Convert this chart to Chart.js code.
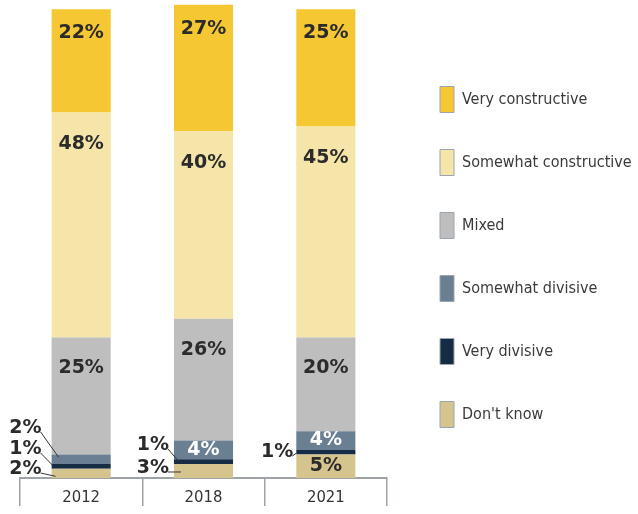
<!DOCTYPE html>
<html><head><meta charset="utf-8">
<script src="https://cdn.jsdelivr.net/npm/chart.js@4/dist/chart.umd.min.js"></script>
<style>html,body{margin:0;padding:0;background:#fff}#wrap{width:638px;height:514px;position:relative}</style>
</head><body><div id="wrap"><canvas id="c"></canvas></div>
<script>
// ---- data ----
const categories = ['2012', '2018', '2021'];
const seriesNames = ['Very constructive', 'Somewhat constructive', 'Mixed', 'Somewhat divisive', 'Very divisive', "Don't know"];
const veryConstructive = [22, 27, 25];
const somewhatConstructive = [48, 40, 45];
const mixed = [25, 26, 20];
const somewhatDivisive = [2, 4, 4];
const veryDivisive = [1, 1, 1];
const dontKnow = [2, 3, 5];

// ---- styles ----
const colors = ['#F5C833', '#F6E5A8', '#BEBEBE', '#6B7F93', '#162C45', '#D6C48F'];
const seriesValues = [veryConstructive, somewhatConstructive, mixed, somewhatDivisive, veryDivisive, dontKnow];
const labelStyle = [
  {mode: 'top', offset: 24, color: '#2b2b2b'},
  {mode: 'top', offset: 32, color: '#2b2b2b'},
  {mode: 'top', offset: 31, color: '#2b2b2b'},
  {mode: 'center', color: '#ffffff'},
  {mode: 'center', color: '#ffffff'},
  {mode: 'center', color: '#2b2b2b'}
];
const outsideLabels = {
  '3:0': {tx: -10, ty: 50, ex: 7, ey: -2},
  '4:0': {tx: -10, ty: 29, ex: 1, ey: -1},
  '5:0': {tx: -10, ty: 9, ex: 4, ey: 3},
  '4:1': {tx: -5, ty: 33, ex: 5, ey: 0},
  '5:1': {tx: -5, ty: 10, ex: 7, ey: 1},
  '4:2': {tx: -3, ty: 26, ex: 0, ey: 1}
};

const datasets = seriesNames.map((name, s) => ({
  label: name,
  sIndex: s,
  data: seriesValues[s],
  backgroundColor: colors[s],
  borderWidth: 0,
  categoryPercentage: 1,
  barPercentage: 0.483
})).reverse();

const valueLabels = {
  id: 'valueLabels',
  afterDatasetsDraw(chart) {
    const ctx = chart.ctx;
    const yBase = chart.scales.y.getPixelForValue(0);
    ctx.save();
    ctx.font = 'bold 19px "DejaVu Sans"';
    ctx.textBaseline = 'middle';
    chart.data.datasets.forEach((ds, d) => {
      const meta = chart.getDatasetMeta(d);
      const st = labelStyle[ds.sIndex];
      meta.data.forEach((bar, i) => {
        const txt = ds.data[i] + '%';
        const top = Math.min(bar.y, bar.base), bottom = Math.max(bar.y, bar.base);
        const left = bar.x - bar.width / 2;
        const out = outsideLabels[ds.sIndex + ':' + i];
        if (out) {
          const tr = left + out.tx, ty = yBase - out.ty;
          ctx.fillStyle = '#2b2b2b';
          ctx.textAlign = 'right';
          ctx.fillText(txt, tr, ty);
          ctx.strokeStyle = '#333';
          ctx.lineWidth = 1;
          ctx.beginPath();
          ctx.moveTo(tr - 1, ty + 4);
          ctx.lineTo(left + out.ex, (top + bottom) / 2 + out.ey);
          ctx.stroke();
        } else {
          const y = st.mode === 'center' ? (top + bottom) / 2 : top + st.offset;
          ctx.fillStyle = st.color;
          ctx.textAlign = 'center';
          ctx.fillText(txt, bar.x, y);
        }
      });
    });
    ctx.restore();
  }
};

// legend sits 53px right of the plot area
const legendShift = {
  id: 'legendShift',
  afterLayout(chart) {
    const lg = chart.legend;
    lg.left += 16; lg.right += 16;
  }
};

const condFamily = '"DejaVu Sans Condensed", Roboto';
const legendSize = 16;
const mctx = document.createElement('canvas').getContext('2d');
mctx.font = legendSize + 'px ' + condFamily;
const maxText = Math.max(...seriesNames.map(n => mctx.measureText(n).width));
const legendPad = 37;
const legendW = legendPad + 14 + legendSize / 2 + maxText + 10;
const padRight = Math.max(0, 638 - 387 - legendW);

new Chart(document.getElementById('c'), {
  type: 'bar',
  data: {labels: categories, datasets},
  options: {
    responsive: true,
    maintainAspectRatio: false,
    animation: false,
    layout: {padding: {left: 20, right: padRight, top: 0, bottom: 0}},
    scales: {
      x: {
        stacked: true,
        offset: true,
        grid: {offset: true, drawOnChartArea: false, drawTicks: true, tickLength: 28, color: '#9ea3a8', lineWidth: 1.5},
        border: {display: true, color: '#9ea3a8', width: 2},
        ticks: {color: '#333', padding: -18, font: {family: condFamily, size: 16.5}},
        afterFit(s) { s.height = 36; }
      },
      y: {
        stacked: true,
        min: 0, max: 102,
        display: false
      }
    },
    plugins: {
      tooltip: {enabled: false},
      legend: {
        position: 'right',
        reverse: true,
        maxHeight: 505,
        labels: {
          boxWidth: 14,
          boxHeight: 26,
          padding: legendPad,
          color: '#3a3a3a',
          font: {family: condFamily, size: legendSize},
          generateLabels(chart) {
            const items = Chart.defaults.plugins.legend.labels.generateLabels(chart);
            items.forEach(it => { it.strokeStyle = '#9aa5b1'; it.lineWidth = 1; });
            return items;
          }
        }
      }
    }
  },
  plugins: [valueLabels, legendShift]
});
</script>
</body></html>
